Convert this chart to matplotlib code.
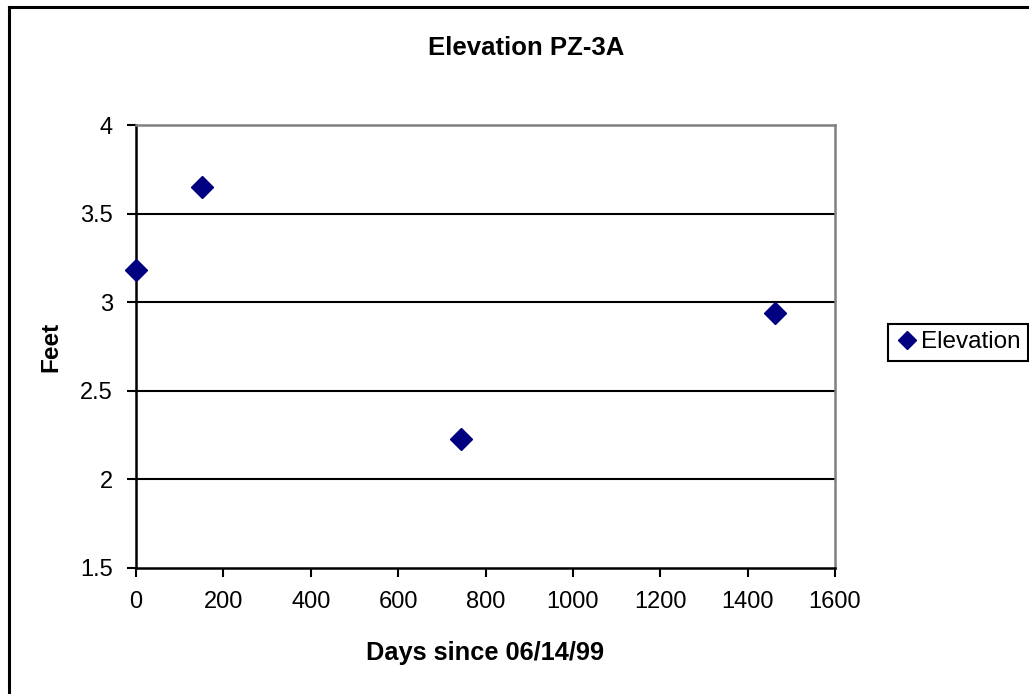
import matplotlib
matplotlib.use("Agg")
import matplotlib.pyplot as plt
from matplotlib.lines import Line2D

days = [0, 150, 745, 1463]
elevation = [3.18, 3.65, 2.23, 2.94]
xticks = [0, 200, 400, 600, 800, 1000, 1200, 1400, 1600]
yticks = [1.5, 2, 2.5, 3, 3.5, 4]
ytick_labels = ["1.5", "2", "2.5", "3", "3.5", "4"]
gridlines = [2, 2.5, 3, 3.5]

plt.rcParams['font.family'] = ['Liberation Sans', 'DejaVu Sans']

W, H = 1029, 694
fig = plt.figure(figsize=(W / 100, H / 100), dpi=100)
ax = fig.add_axes([136 / W, 1 - 568 / H, (835 - 136) / W, (568 - 125) / H])

ax.set_xlim(0, 1600)
ax.set_ylim(1.5, 4)
ax.set_xticks(xticks)
ax.set_xticklabels([str(t) for t in xticks])
ax.set_yticks(yticks)
ax.set_yticklabels(ytick_labels)
ax.tick_params(axis='both', direction='out', length=6.5, width=1.5, labelsize=17, colors='black')
ax.tick_params(axis='y', pad=10)
ax.tick_params(axis='x', pad=10)

for yv in gridlines:
    ax.axhline(yv, color='black', lw=1.5, zorder=1)

ax.spines['left'].set_color('black')
ax.spines['left'].set_linewidth(1.8)
ax.spines['bottom'].set_color('black')
ax.spines['bottom'].set_linewidth(1.8)
ax.spines['top'].set_color('#808080')
ax.spines['top'].set_linewidth(1.8)
ax.spines['right'].set_color('#808080')
ax.spines['right'].set_linewidth(1.8)

ax.plot(days, elevation, linestyle='none', marker='D', markersize=10.7,
        color='#000080', label='Elevation', zorder=3, clip_on=False)

fig.text(526 / W, 1 - 55 / H, 'Elevation PZ-3A', ha='center', va='baseline',
         fontsize=18.5, fontweight='bold')
fig.text(485 / W, 1 - 660 / H, 'Days since 06/14/99', ha='center', va='baseline',
         fontsize=18.3, fontweight='bold')
fig.text(51 / W, 1 - 347 / H, 'Feet', ha='center', va='center', rotation=90,
         fontsize=17.5, fontweight='bold')

leg = fig.legend(handles=[Line2D([], [], linestyle='none', marker='D', markersize=9.2,
                                 color='#000080', label='Elevation')],
                 loc='upper left', bbox_to_anchor=(888 / W, 1 - 324 / H),
                 frameon=True, fancybox=False, fontsize=17.5, handlelength=1.0,
                 handletextpad=0.05, borderpad=0.3, borderaxespad=0)
leg.get_frame().set_edgecolor('black')
leg.get_frame().set_linewidth(1.5)
leg.get_frame().set_alpha(None)

fig.add_artist(Line2D([9 / W, 1], [1 - 7 / H, 1 - 7 / H], color='black', lw=2.2,
                      transform=fig.transFigure))
fig.add_artist(Line2D([9 / W, 9 / W], [0, 1 - 7 / H], color='black', lw=2.2,
                      transform=fig.transFigure))

fig.savefig('out.png', dpi=100)
